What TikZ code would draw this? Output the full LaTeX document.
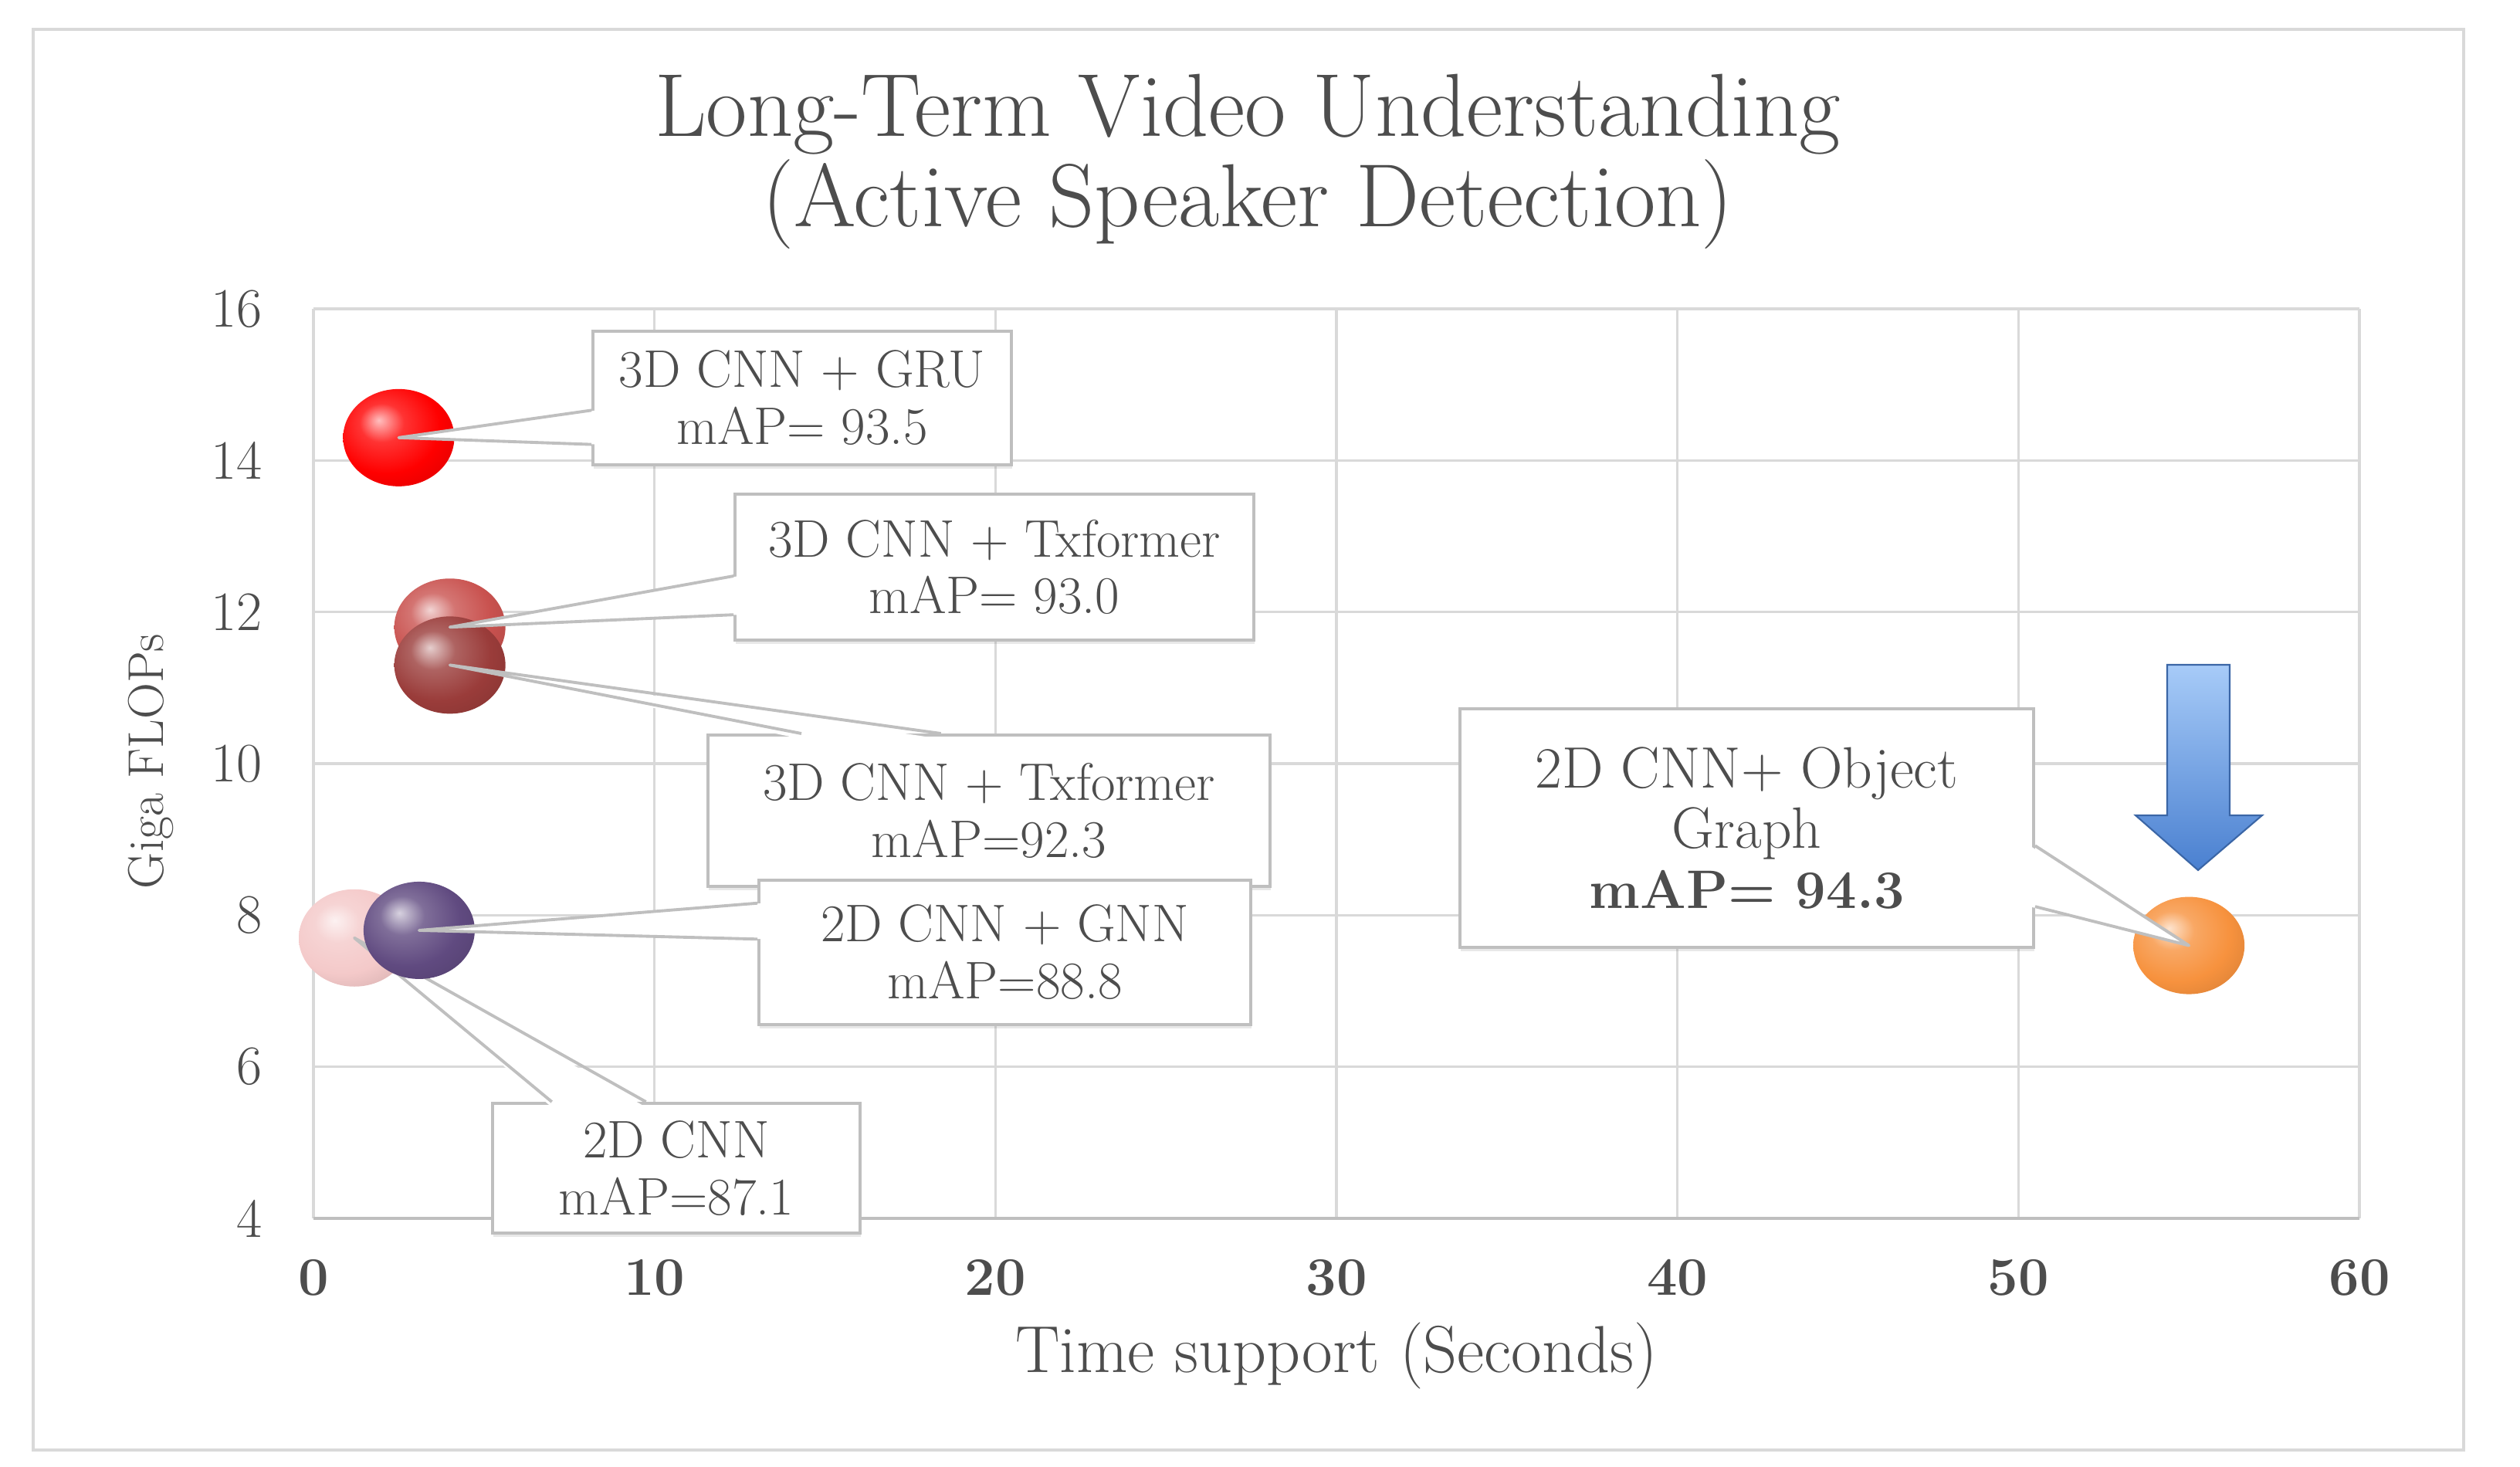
\documentclass[tikz,border=0pt]{standalone}
\usepackage{tikz}
\usetikzlibrary{calc, positioning, shapes.geometric, shadows}

\definecolor{txt}{HTML}{4D4D4D}
\definecolor{grid}{HTML}{D9D9D9}
\definecolor{edge}{HTML}{BFBFBF}
\definecolor{txred}{HTML}{C9524F}
\definecolor{txdark}{HTML}{9A3C3A}
\definecolor{gnnpurple}{HTML}{604A80}
\definecolor{cnnpink}{HTML}{F4C9C9}
\definecolor{objorange}{HTML}{F7923E}
\definecolor{arrowtop}{HTML}{A7CBF8}
\definecolor{arrowbot}{HTML}{4A80D0}
\colorlet{spherecol}{red}

\pgfdeclareradialshading[spherecol]{glossy}{\pgfqpoint{-9bp}{9bp}}{%
    color(0bp)=(spherecol!25!white); color(10bp)=(spherecol!80!white);
    color(24bp)=(spherecol); color(40bp)=(spherecol!85!black);
    color(52bp)=(spherecol!55!black); color(64bp)=(spherecol!45!black)}

\begin{document}
\begin{tikzpicture}[
    ball/.style={ellipse, minimum width=1.44cm, minimum height=1.26cm, inner sep=0pt},
    shiny/.style={/utils/exec={\colorlet{spherecol}{#1}}, shade, shading=glossy},
    box/.style={draw=edge, line width=1.1pt, fill=white, text=txt, align=center, inner sep=0pt,
        font=\fontsize{19.5}{21}\selectfont,
        drop shadow={shadow xshift=0.3pt, shadow yshift=-1.3pt, opacity=0.18}},
    lbl/.style={draw=edge, line width=1.1pt, line join=round},
    gridline/.style={draw=grid, line width=0.9pt},
    tick/.style={text=txt, inner sep=0pt}
]
\useasboundingbox (0,0) rectangle (32.64,19);
\draw[grid, line width=1pt] (0.43,0.22) rectangle (31.91,18.62);

\begin{scope}[shift={(4.06,-0.7067)}, x=0.44167cm, y=0.98167cm]
    \foreach \gx in {0,10,...,60} \draw[gridline] (\gx,4) -- (\gx,16);
    \foreach \gy in {6,8,...,16} \draw[gridline] (0,\gy) -- (60,\gy);
    \draw[edge, line width=1.1pt] (0,4) -- (60,4);
    \foreach \gx in {0,10,...,60}
        \node[tick, anchor=base, yshift=-1cm, font=\fontsize{20}{22}\selectfont\bfseries] at (\gx,4) {\gx};
    \foreach \gy in {4,6,...,16}
        \node[tick, anchor=east, xshift=-0.66cm, font=\fontsize{20.5}{22}\selectfont] at (0,\gy) {\gy};
    \coordinate (cnn) at (1.2,7.7);
    \coordinate (gnn) at (3.1,7.8);
    \coordinate (txup) at (4,11.8);
    \coordinate (txlow) at (4,11.3);
    \coordinate (gru) at (2.5,14.3);
    \coordinate (obj) at (55,7.6);
\end{scope}

\node[tick, anchor=north, align=center, font=\fontsize{33}{33.5}\selectfont] (title) at (16.16,18.05)
    {Long-Term Video Understanding\\(Active Speaker Detection)};
\node[tick, anchor=base, font=\fontsize{24.5}{26}\selectfont] (xlab) at (17.31,1.22) {Time support (Seconds)};
\node[tick, rotate=90, font=\fontsize{18.5}{20}\selectfont] (ylab) at (1.95,9.14) {Giga FLOPs};

\node[ball, shiny=cnnpink] (cnnball) at (cnn) {};
\node[box, minimum width=4.76cm, minimum height=1.68cm] (cnnbox) at (8.76,3.87) {2D CNN\\mAP=87.1};
\coordinate (c1) at ($(cnnbox.north west)!0.164!(cnnbox.north east)$);
\coordinate (c2) at ($(cnnbox.north west)!0.418!(cnnbox.north east)$);
\fill[white] ([yshift=-2pt]c1) -- (cnnball.center) -- ([yshift=-2pt]c2) -- cycle;
\draw[lbl] (c1) -- (cnnball.center) -- (c2);

\node[ball, shiny=gnnpurple] (gnnball) at (gnn) {};
\node[ball, shiny=txred] (txupball) at (txup) {};
\node[ball, shiny=txdark] (txlowball) at (txlow) {};
\node[ball, shiny=red] (gruball) at (gru) {};
\node[ball, shiny=objorange] (objball) at (obj) {};

\node[box, minimum width=5.42cm, minimum height=1.73cm] (grubox) at (10.39,13.845) {3D CNN + GRU\\mAP= 93.5};
\node[box, minimum width=6.72cm, minimum height=1.89cm] (txupbox) at (12.88,11.655) {3D CNN + Txformer\\mAP= 93.0};
\node[box, minimum width=7.28cm, minimum height=1.96cm] (txlowbox) at (12.81,8.50) {3D CNN + Txformer\\mAP=92.3};
\node[box, minimum width=6.37cm, minimum height=1.87cm] (gnnbox) at (13.015,6.665) {2D CNN + GNN\\mAP=88.8};
\node[box, minimum width=7.43cm, minimum height=3.09cm, font=\fontsize{21.5}{22.2}\selectfont] (objbox) at (22.625,8.275)
    {2D CNN+ Object\\Graph\\{\fontsize{20}{22.2}\selectfont\bfseries mAP= 94.3}};

\foreach \bx/\ca/\cb/\ta/\tb/\tip/\sh in {
    grubox/north west/south west/0.59/0.84/gruball/{2pt,0},
    txupbox/north west/south west/0.56/0.82/txupball/{2pt,0},
    txlowbox/north west/north east/0.168/0.415/txlowball/{0,-2pt},
    gnnbox/north west/south west/0.166/0.41/gnnball/{2pt,0},
    objbox/north east/south east/0.573/0.825/objball/{-2pt,0}} {
    \coordinate (pa) at ($(\bx.\ca)!\ta!(\bx.\cb)$);
    \coordinate (pb) at ($(\bx.\ca)!\tb!(\bx.\cb)$);
    \fill[white] ($(pa)+(\sh)$) -- (\tip.center) -- ($(pb)+(\sh)$) -- cycle;
    \draw[lbl] (pa) -- (\tip.center) -- (pb);
}

\shadedraw[top color=arrowtop, bottom color=arrowbot, draw=arrowbot!80!black, line width=0.6pt]
    (28.07,10.39) -- (28.88,10.39) -- (28.88,8.44) -- (29.30,8.44) -- (28.47,7.73)
    -- (27.66,8.44) -- (28.07,8.44) -- cycle;
\end{tikzpicture}
\end{document}
